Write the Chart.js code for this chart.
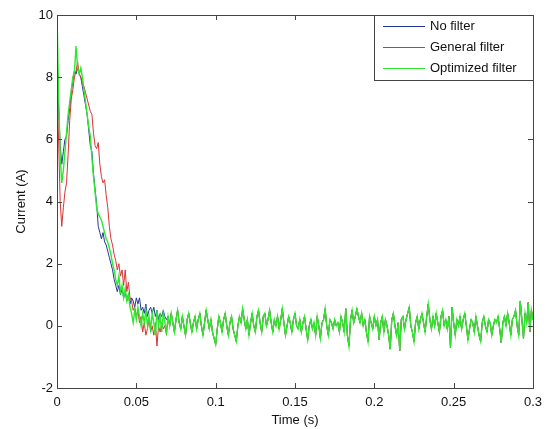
<!DOCTYPE html>
<html>
<head>
<meta charset="utf-8">
<script src="https://cdn.jsdelivr.net/npm/chart.js@4"></script>
<style>
  body { margin: 0; background: #fff; }
  #wrap { width: 550px; height: 429px; }
</style>
</head>
<body>
<div id="wrap"><canvas id="grafico"></canvas></div>
<script>
// ----- DADOS -----
const seriesNames = ["No filter", "General filter", "Optimized filter"];
const seriesColors = ["#23369a", "#d93333", "#2ee82e"];
const seriesWidths = [1, 1, 1.4];
const stepS = 0.001;
const yTicks = [-2, 0, 2, 4, 6, 8, 10];
const xTicks = [0, 0.05, 0.1, 0.15, 0.2, 0.25, 0.3];

// 0.000 .. 0.069 s
const noFilterStart = [
  9.0, 7.0, 5.8, 5.2, 5.6, 6.0, 6.1, 6.6, 7.0, 7.5,
  7.9, 8.2, 8.1, 8.3, 8.1, 8.0, 7.7, 7.4, 7.1, 6.8,
  6.3, 5.8, 5.6, 4.9, 4.4, 3.9, 3.2, 3.0, 2.8, 3.0,
  2.7, 2.6, 2.4, 2.2, 2.0, 1.8, 1.5, 1.3, 1.1, 1.3,
  1.0, 1.2, 0.9, 1.1, 0.8, 1.0, 0.7, 0.9, 0.8, 0.6,
  0.9, 0.7, 0.9, 0.5, 0.6, 0.4, 0.7, 0.3, 0.5, 0.6,
  0.4, 0.6, 0.3, 0.5, 0.2, 0.4, 0.3, 0.5, 0.3, 0.2
];
const generalFilterStart = [
  8.0, 6.0, 4.0, 3.2, 3.8, 4.3, 4.6, 5.5, 6.6, 7.3,
  7.6, 8.0, 8.2, 8.5, 8.1, 8.0, 7.8, 7.7, 7.5, 7.3,
  7.1, 6.9, 6.8, 6.2, 5.8, 5.7, 5.9, 5.2, 4.8, 4.6,
  4.7, 4.2, 3.8, 3.2, 2.8, 2.6, 2.3, 2.1, 1.8, 2.0,
  1.6, 1.8, 1.3, 1.8, 1.1, 1.4, 0.9, 0.8, 0.5, 0.6,
  0.3, 0.5, 0.1, 0.3, -0.2, 0.1, -0.3, -0.1, 0.2, -0.2,
  0.0, -0.3, 0.1, -0.65, 0.0, -0.2, 0.1, -0.1, 0.0, -0.3
];
const optimizedFilterStart = [
  10.0, 7.5, 5.5, 4.6, 5.0, 5.6, 6.2, 6.8, 7.2, 7.6,
  8.0, 8.2, 9.0, 8.3, 8.1, 8.3, 8.0, 7.6, 7.2, 6.8,
  6.4, 6.1, 5.4, 4.8, 4.3, 3.8, 3.6, 3.5, 3.4, 3.2,
  3.0, 2.8, 2.7, 2.5, 2.3, 2.0, 1.8, 1.5, 1.3, 1.6,
  1.1, 1.3, 0.9, 1.2, 0.8, 1.0, 0.6, 0.4, 0.1, 0.5,
  0.2, 0.6, 0.3, 0.0, 0.4, 0.1, 0.5, 0.0, 0.3, -0.1,
  0.4, 0.1, -0.3, 0.5, 0.0, 0.3, -0.2, 0.4, 0.1, -0.2
];
// 0.070 .. 0.300 s (as tres curvas praticamente coincidem)
const settledTail = [
  0.3, 0.0, 0.4, 0.1, -0.2, 0.2, 0.5, 0.1, -0.1, 0.3,
  0.0, -0.3, 0.2, 0.4, 0.1, -0.2, 0.1, 0.3, -0.1, 0.2,
  0.4, 0.0, -0.3, 0.1, 0.5, 0.2, -0.1, 0.2, -0.2, -0.4,
  -0.6, -0.1, 0.3, 0.1, -0.2, 0.2, 0.4, 0.0, -0.3, 0.1,
  0.3, -0.1, -0.3, -0.5, 0.0, 0.3, 0.1, 0.55, 0.2, -0.1,
  0.2, -0.3, 0.1, 0.4, 0.0, -0.2, 0.3, 0.5, 0.1, -0.2,
  0.3, 0.4, 0.0, 0.2, 0.5, 0.1, -0.2, 0.2, 0.0, 0.3,
  -0.1, 0.2, 0.55, 0.1, -0.3, 0.0, 0.3, 0.1, -0.2, 0.2,
  0.4, 0.0, -0.1, 0.2, -0.2, 0.1, 0.3, -0.1, -0.45, 0.0,
  0.2, -0.1, 0.1, -0.3, 0.3, 0.0, -0.4, 0.1, 0.2, 0.55,
  0.0, -0.3, 0.2, 0.1, -0.1, 0.2, 0.0, 0.1, -0.2, 0.3,
  0.1, -0.2, 0.55, -0.3, -0.65, 0.2, 0.5, 0.1, 0.3, 0.55,
  0.3, 0.1, 0.4, 0.0, 0.2, -0.2, -0.5, 0.3, 0.1, -0.1,
  0.3, 0.0, 0.2, -0.45, 0.1, 0.3, -0.2, 0.2, 0.0, -0.3,
  -0.75, 0.2, 0.4, 0.0, -0.3, 0.1, -0.8, 0.2, 0.3, -0.1,
  0.2, 0.4, 0.6, 0.0, -0.2, -0.5, 0.1, 0.3, -0.1, 0.2,
  0.4, 0.1, -0.2, 0.3, 0.7, 0.2, -0.1, 0.3, 0.0, 0.4,
  0.1, -0.2, 0.3, 0.5, 0.0, 0.2, -0.1, 0.3, -0.7, 0.6,
  0.1, -0.3, 0.2, 0.0, 0.3, -0.1, 0.2, 0.4, 0.0, -0.45,
  -0.1, 0.2, 0.1, -0.2, 0.3, 0.0, -0.3, -0.5, 0.1, 0.3,
  0.0, -0.2, 0.2, 0.1, -0.3, 0.0, 0.2, 0.1, 0.3, -0.1,
  -0.55, 0.1, 0.3, 0.0, 0.4, 0.1, -0.3, 0.2, 0.3, 0.5,
  0.0, -0.3, 0.8, 0.2, -0.4, 0.4, 0.1, 0.75, -0.2, 0.5,
  0.2
];

const seriesValues = [
  noFilterStart.concat(settledTail),
  generalFilterStart.concat(settledTail),
  optimizedFilterStart.concat(settledTail)
];

function toPoints(vals) {
  return vals.map((v, i) => ({ x: +(i * stepS).toFixed(3), y: v }));
}

const FONT = "'Liberation Sans', Arial, sans-serif";

// caixa do eixo + ticks para dentro (estilo matlab)
const boxPlugin = {
  id: "box",
  afterDatasetsDraw(chart) {
    const { ctx, chartArea: a, scales } = chart;
    ctx.save();
    ctx.strokeStyle = "#444";
    ctx.lineWidth = 1;
    ctx.strokeRect(a.left + 0.5, a.top + 0.5, a.right - a.left, a.bottom - a.top);
    ctx.beginPath();
    const len = 5;
    xTicks.forEach(t => {
      const px = Math.round(scales.x.getPixelForValue(t)) + 0.5;
      ctx.moveTo(px, a.bottom); ctx.lineTo(px, a.bottom - len);
      ctx.moveTo(px, a.top); ctx.lineTo(px, a.top + len);
    });
    yTicks.forEach(v => {
      const py = Math.round(scales.y.getPixelForValue(v)) + 0.5;
      ctx.moveTo(a.left, py); ctx.lineTo(a.left + len, py);
      ctx.moveTo(a.right, py); ctx.lineTo(a.right - len, py);
    });
    ctx.stroke();

    // legenda
    const w = 159, h = 65;
    const lx = a.right - w, ly = a.top;
    ctx.fillStyle = "#fff";
    ctx.fillRect(lx, ly, w, h);
    ctx.strokeRect(lx + 0.5, ly + 0.5, w, h);
    ctx.font = "13px " + FONT;
    ctx.textBaseline = "middle";
    seriesNames.forEach((name, i) => {
      const y = Math.round(ly + 11 + i * 21);
      ctx.strokeStyle = seriesColors[i];
      ctx.lineWidth = 1;
      ctx.beginPath();
      ctx.moveTo(lx + 9, y + 0.5);
      ctx.lineTo(lx + 51, y + 0.5);
      ctx.stroke();
      ctx.fillStyle = "#111";
      ctx.fillText(name, lx + 56, y);
    });
    ctx.restore();
  }
};

new Chart(document.getElementById("grafico"), {
  type: "line",
  data: {
    datasets: seriesValues.map((vals, i) => ({
      label: seriesNames[i],
      data: toPoints(vals),
      borderColor: seriesColors[i],
      borderWidth: seriesWidths[i],
      pointRadius: 0,
      tension: 0,
      order: 2 - i
    }))
  },
  options: {
    responsive: true,
    maintainAspectRatio: false,
    animation: false,
    layout: { padding: { left: 0, top: 15, right: 17, bottom: 0 } },
    plugins: { legend: { display: false }, tooltip: { enabled: false } },
    scales: {
      x: {
        type: "linear",
        min: 0, max: 0.3,
        afterFit: s => { s.height = 41; },
        afterBuildTicks: s => { s.ticks = xTicks.map(v => ({ value: v })); },
        grid: { display: false, drawTicks: false },
        border: { display: false },
        ticks: {
          padding: 7,
          color: "#111",
          font: { family: FONT, size: 13 },
          callback: v => String(+v.toFixed(2))
        },
        title: {
          display: true, text: "Time (s)", color: "#111",
          font: { family: FONT, size: 13 }, padding: { top: 0, bottom: 1 }
        }
      },
      y: {
        min: -2, max: 10,
        afterFit: s => { s.width = 57; },
        afterBuildTicks: s => { s.ticks = yTicks.map(v => ({ value: v })); },
        grid: { display: false, drawTicks: false },
        border: { display: false },
        ticks: {
          padding: 4,
          color: "#111",
          font: { family: FONT, size: 13 }
        },
        title: {
          display: true, text: "Current (A)", color: "#111",
          font: { family: FONT, size: 13 }, padding: { top: 14, bottom: 0 }
        }
      }
    }
  },
  plugins: [boxPlugin]
});
</script>
</body>
</html>
